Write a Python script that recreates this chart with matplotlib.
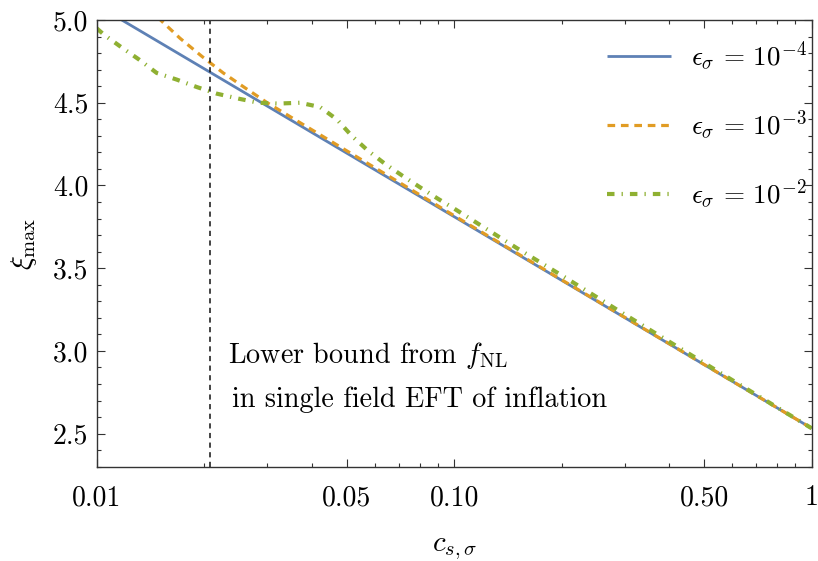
import matplotlib
matplotlib.use('Agg')
import matplotlib.pyplot as plt
from matplotlib.ticker import FixedLocator, FixedFormatter, NullFormatter

plt.rcParams['mathtext.fontset'] = 'cm'
plt.rcParams['font.family'] = ['cmr10', 'DejaVu Serif']
plt.rcParams['axes.unicode_minus'] = False

# xi_max vs c_s,sigma for three values of eps_sigma
cs_blue = [0.01, 0.02, 0.05, 0.1, 0.2, 0.5, 1.0]
xi_blue = [5.090, 4.705, 4.196, 3.811, 3.426, 2.917, 2.532]

cs_orange = [0.0125, 0.0135, 0.015, 0.0171, 0.0197, 0.0226, 0.026, 0.03,
             0.0367, 0.05, 0.07, 0.1, 0.2, 0.5, 1.0]
xi_orange = [5.18, 5.09, 5.005, 4.89, 4.78, 4.68, 4.59, 4.50,
             4.385, 4.21, 4.02, 3.817, 3.429, 2.918, 2.532]

cs_green = [0.01, 0.0105, 0.01175, 0.01316, 0.01472, 0.01674, 0.01905, 0.02167,
            0.0249, 0.02831, 0.03221, 0.03705, 0.04214, 0.04692, 0.0517, 0.0574,
            0.0641, 0.0715, 0.0801, 0.09, 0.1, 0.15, 0.2, 0.3, 0.5, 0.7, 1.0]
xi_green = [4.95, 4.91, 4.834, 4.76, 4.68, 4.64, 4.595, 4.555,
            4.525, 4.50, 4.495, 4.50, 4.474, 4.40, 4.30, 4.21,
            4.13, 4.06, 3.99, 3.92, 3.86, 3.62, 3.456, 3.22, 2.927, 2.735, 2.532]

labels = [r'$\epsilon_\sigma\,=\,10^{-4}$', r'$\epsilon_\sigma\,=\,10^{-3}$',
          r'$\epsilon_\sigma\,=\,10^{-2}$']

cs_bound = 0.0208

xticks = [0.01, 0.05, 0.1, 0.5, 1.0]
xticklabels = ['0.01', '0.05', '0.10', '0.50', '1']
yticks = [2.5, 3.0, 3.5, 4.0, 4.5, 5.0]

fig = plt.figure(figsize=(8.18, 5.61), dpi=100)
ax = fig.add_axes([0.1182, 0.1681, 0.8741, 0.7962])

ax.plot(cs_blue, xi_blue, color='#5E81B5', lw=2.0, solid_capstyle='butt',
        label=labels[0])
ax.plot(cs_orange, xi_orange, color='#E19C24', lw=2.3, dashes=(2.4, 1.8),
        dash_capstyle='butt', label=labels[1])
ax.plot(cs_green, xi_green, color='#8FB032', lw=3.0, dashes=(1.8, 1.7, 0.3, 1.7),
        dash_capstyle='butt', label=labels[2])
ax.axvline(cs_bound, color='#111111', lw=1.1, dashes=(3.4, 2.9))

ax.text(0.0233, 2.926, r'Lower bound from $f_{\rm NL}$', fontsize=20.3,
        va='baseline', ha='left')
ax.text(0.0239, 2.660, 'in single field EFT of inflation', fontsize=20.3,
        va='baseline', ha='left')

ax.set_xscale('log')
ax.set_xlim(0.01, 1.0)
ax.set_ylim(2.3, 5.0)

ax.xaxis.set_major_locator(FixedLocator(xticks))
ax.xaxis.set_major_formatter(FixedFormatter(xticklabels))
minor_x = [k * 10.0**e for e in (-2, -1) for k in range(2, 10) if k != 5]
ax.xaxis.set_minor_locator(FixedLocator(minor_x))
ax.xaxis.set_minor_formatter(NullFormatter())
ax.yaxis.set_major_locator(FixedLocator(yticks))
ax.yaxis.set_major_formatter(FixedFormatter(['%.1f' % v for v in yticks]))
ax.yaxis.set_minor_locator(FixedLocator([2.3 + 0.1 * i for i in range(28)]))

ax.tick_params(which='both', direction='in', top=True, right=True,
               labelsize=20, width=0.8, color='#333333')
ax.tick_params(which='major', length=5.5)
ax.tick_params(which='minor', length=3)
ax.tick_params(axis='x', pad=13)
ax.tick_params(axis='y', pad=6)
for s in ax.spines.values():
    s.set_linewidth(1.0)
    s.set_color('#333333')

ax.set_xlabel(r'$c_{s,\sigma}$', fontsize=21, labelpad=18)
ax.set_ylabel(r'$\xi_{\rm max}$', fontsize=21, labelpad=10)

ax.legend(loc='upper left', bbox_to_anchor=(0.714, 0.957), frameon=False,
          fontsize=19.5, handlelength=2.36, handletextpad=0.74,
          labelspacing=1.3, borderpad=0, borderaxespad=0)

fig.savefig('out.png', dpi=100)
